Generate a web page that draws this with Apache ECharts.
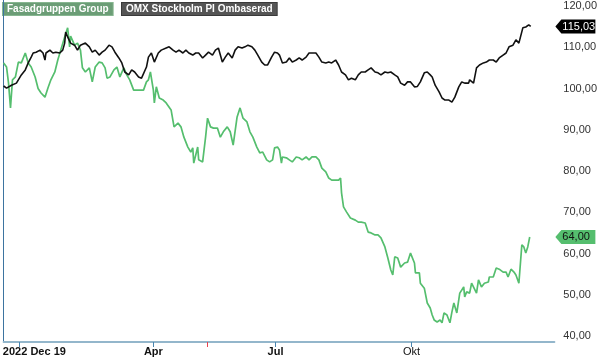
<!DOCTYPE html>
<html><head><meta charset="utf-8">
<script src="https://cdn.jsdelivr.net/npm/echarts@6/dist/echarts.min.js"></script>
<style>html,body{margin:0;padding:0;background:#fff}#c{width:600px;height:361px}</style>
</head><body><div id="c"></div>
<script>
const seriesNames = ['Fasadgruppen Group', 'OMX Stockholm PI Ombaserad'];
// trading-day index from chart start
const fasadDays = [0,1.5,2.5,3.5,4.5,6,7.5,9,11,12.5,
14,16,17.5,19,21,22.5,24,26,27.5,29,
31,32.5,33.5,34,36,37.5,39,40,41.5,43.5,
45,46.5,48.5,50,51.5,52.5,54,56,57.5,59,
61,62.5,64,66,68.5,71,72.5,73.5,74.5,76,
76.5,77.5,79,81,82.5,83.5,85,86.5,88.5,90,
91.5,93.5,95,96,96.5,98.5,99,101,102.5,103.5,
105,106.5,108.5,110,111.5,113.5,115,116.5,118.5,120,
121.5,123.5,125,126.5,128.5,130,131.5,133.5,135,136.5,
137.5,139,140,141,141.5,143.5,145,146.5,148.5,150,
151.5,153.5,155,156.5,158.5,160,161.5,163.5,165,166.5,
168.5,170,171,171.5,172.5,174,176,176.5,178.5,180,
181.5,183.5,185,186.5,188.5,190,191.5,193.5,195,196.5,
197.5,198.5,200,201.5,203.5,205,206.5,207.5,208.5,209,
211,211.5,213.5,215,216.5,217.5,218.5,220,221.5,222.5,
223.5,225,226.5,227.5,228.5,230,231.5,233.5,234,235,
236.5,237.5,238.5,240,241,242.5,244,246,246.5,248.5,
250,251.5,253.5,255,256,257.5,259,260,261.5,263,
264,265,266,267];
const fasadValues = [106.2,105.2,101.3,95.3,102.1,102.8,106.4,106.2,108.6,106.2,
105.2,102.8,100.0,98.9,97.9,100.1,102.1,104.0,106.9,109.3,
112.5,114.7,110.1,112.7,110.5,111.0,109.3,105.0,104.0,105.0,
101.6,105.2,106.4,106.2,105.0,102.5,102.8,104.5,105.2,102.8,
105.0,103.3,102.1,99.6,99.6,99.6,101.6,102.1,104.0,99.6,
96.5,100.4,97.7,97.2,96.5,96.7,94.8,90.7,91.6,90.7,
88.2,85.8,84.6,85.6,81.9,85.8,82.7,82.2,88.2,92.8,
90.7,90.4,90.4,88.2,89.5,90.7,89.5,86.3,93.1,95.3,
92.8,91.9,89.5,88.2,85.8,84.4,84.6,82.7,82.2,82.7,
85.6,85.8,85.1,81.9,83.4,83.2,82.7,82.2,83.4,83.2,
82.7,83.4,82.7,83.4,83.4,82.7,80.7,79.8,78.3,77.8,
77.8,77.8,78.3,74.7,71.3,70.1,68.6,68.8,68.1,67.6,
67.6,67.4,65.2,65.0,64.5,64.5,63.8,61.6,58.9,56.0,
54.8,59.2,58.9,56.7,57.7,57.9,60.1,60.1,57.7,55.3,
55.3,52.8,51.6,48.0,46.8,45.1,43.9,43.4,43.9,43.2,
45.6,45.1,43.2,45.8,48.0,45.6,50.4,51.9,49.5,50.7,
50.4,52.8,52.4,50.4,53.6,51.9,52.8,53.1,54.3,54.3,
56.5,56.2,55.5,55.5,54.3,56.2,55.5,54.8,52.8,62.1,
61.6,60.1,61.6,64.0];
const omxDays = [0,1.5,2.5,4,5,6.5,7.5,9,11,12.5,
14,15,16.5,18.5,20,21,21.5,23.5,25,26.5,
28.5,30,31,31.5,32.5,34,36,37.5,39,41.5,
43.5,45,46.5,48.5,50,51.5,53.5,55,56.5,58.5,
60,61.5,63.5,65,66.5,68.5,70,72.5,73.5,75,
76.5,78.5,80,82.5,84,86,87.5,89,91,92.5,
94,96,97.5,99,101,102.5,104,106,107.5,109,
111,112.5,114,116,117.5,119,121,122.5,124,126,
127.5,129,131,132.5,134,136,137.5,139,140,141.5,
143.5,145,146.5,148.5,150,151.5,153.5,155,156.5,158.5,
160,161.5,163.5,165,166.5,168.5,170,171.5,173.5,175,
176.5,178.5,180,181.5,183.5,185,186.5,188.5,190,191.5,
193.5,195,196.5,198.5,200,201.5,203.5,205,206.5,208.5,
210,211.5,213.5,215,216.5,217.5,219,221,222.5,224,
226,227.5,229,231,232.5,234,236,236.5,238.5,240,
241.5,243.5,245,246.5,248.5,250,251.5,253.5,255,256.5,
258.5,260,261.5,263.5,265,266.5,267.5];
const omxValues = [100.6,100.1,100.1,100.8,100.4,101.3,101.6,103.3,104.5,106.2,
107.6,108.6,108.8,109.3,108.6,106.9,108.6,109.3,108.6,108.8,
108.6,109.3,111.0,113.7,112.5,111.0,110.5,109.3,110.5,111.0,
110.1,108.8,109.3,108.1,108.8,109.3,110.5,110.1,108.8,107.4,
106.2,104.0,103.3,104.5,104.0,102.8,102.5,105.2,107.6,108.6,
106.4,108.6,109.3,109.8,110.1,109.3,108.8,109.3,108.6,109.3,
108.6,108.1,108.6,108.6,107.4,108.1,108.8,108.1,109.3,109.8,
106.4,107.6,108.6,107.4,109.3,110.1,109.8,110.1,110.5,110.1,
109.3,108.1,106.4,105.7,105.7,107.6,108.8,108.6,108.1,106.2,
106.4,107.4,106.4,106.9,107.4,106.9,107.6,108.6,108.6,108.6,
107.6,106.4,106.2,106.4,106.2,106.9,105.7,104.0,103.3,102.1,
102.5,102.1,103.3,104.0,104.0,104.5,105.0,104.0,103.8,103.3,
104.0,103.8,104.0,103.3,102.8,101.3,100.8,101.6,101.6,100.4,
100.5,101.6,103.8,104.0,103.3,102.8,100.8,99.2,97.7,97.2,
97.2,96.7,97.9,100.4,101.6,101.3,101.3,102.1,101.3,105.0,
105.7,106.2,106.4,106.9,106.9,106.4,107.4,108.1,108.6,110.1,
110.5,111.8,111.0,114.7,114.9,115.4,115.03];
const xTickDays = [8, 76, 138, 207];
const xTickLabels = ['2022 Dec 19', 'Apr', 'Jul', 'Okt'];
const markerDays = [103.5];
const yTickValues = [40, 50, 60, 70, 80, 90, 100, 110, 120];

const GREEN = '#55be6e';
const BLACK = '#111111';
const FONT = 'Arial, "Liberation Sans", sans-serif';

const chart = echarts.init(document.getElementById('c'), null, {renderer: 'canvas'});
const fmt = v => v.toFixed(2).replace('.', ',');

const xBase = {
  type: 'value', min: 0, max: 279.5, gridIndex: 0,
  splitLine: {show: false}
};

chart.setOption({
  animation: false,
  backgroundColor: '#fff',
  grid: {left: 0, right: 41, top: 0, bottom: 19, containLabel: false},
  xAxis: [
    Object.assign({}, xBase, {
      position: 'bottom',
      axisLine: {show: true, lineStyle: {color: '#93b6cb', width: 2}},
      axisTick: {show: true, length: 5, customValues: xTickDays, lineStyle: {color: '#4a86b0', width: 1}},
      axisLabel: {
        show: true, customValues: xTickDays, margin: 4,
        formatter: v => {
          const i = xTickDays.indexOf(v);
          if (i < 0) return '';
          if (i === 0) return '{first|' + xTickLabels[i] + '}';
          if (i === xTickLabels.length - 1) return '{norm|' + xTickLabels[i] + '}';
          return '{bold|' + xTickLabels[i] + '}';
        },
        rich: {
          first: {fontWeight: 'bold', fontSize: 11, fontFamily: FONT, color: '#111', padding: [0, 0, 0, 30]},
          bold: {fontWeight: 'bold', fontSize: 11, fontFamily: FONT, color: '#111'},
          norm: {fontWeight: 'normal', fontSize: 11, fontFamily: FONT, color: '#111'}
        }
      }
    }),
    Object.assign({}, xBase, {
      position: 'bottom',
      axisLine: {show: false},
      axisTick: {show: true, length: 5, customValues: markerDays, lineStyle: {color: '#e8434f', width: 1}},
      axisLabel: {show: false}
    })
  ],
  yAxis: {
    type: 'value', position: 'right', min: 38.55, max: 121.45,
    splitLine: {show: false},
    axisLine: {show: true, lineStyle: {color: '#3d74a0', width: 1}},
    axisTick: {show: false},
    axisLabel: {
      customValues: yTickValues, margin: 9, fontSize: 11, fontFamily: FONT,
      color: '#333', formatter: v => fmt(v)
    }
  },
  series: [
    {
      name: seriesNames[0], type: 'line', xAxisIndex: 0, showSymbol: false,
      data: fasadDays.map((d, i) => [d, fasadValues[i]]),
      lineStyle: {color: GREEN, width: 1.7}, itemStyle: {color: GREEN}, z: 2
    },
    {
      name: seriesNames[1], type: 'line', xAxisIndex: 0, showSymbol: false,
      data: omxDays.map((d, i) => [d, omxValues[i]]),
      lineStyle: {color: BLACK, width: 1.6}, itemStyle: {color: BLACK}, z: 3
    }
  ]
});

function tag(value, bg, fg) {
  const y = chart.convertToPixel({yAxisIndex: 0}, value);
  const x0 = chart.convertToPixel({xAxisIndex: 0}, 279.5) + 1;
  return {
    type: 'group',
    children: [
      {type: 'polygon', shape: {points: [[x0, y], [x0 + 6, y - 7], [x0 + 40, y - 7], [x0 + 40, y + 7], [x0 + 6, y + 7]]},
       style: {fill: bg}},
      {type: 'text', style: {text: fmt(value), x: x0 + 7, y: y, fill: fg, font: '11px ' + FONT, textVerticalAlign: 'middle', verticalAlign: 'middle'}}
    ]
  };
}

chart.setOption({
  graphic: [
    {type: 'text', left: 2, top: 2, style: {
      text: seriesNames[0], fill: '#fff', font: 'bold 10px ' + FONT,
      backgroundColor: '#6b9d76', borderColor: '#86b690', borderWidth: 1, padding: [1, 4, 1, 4]}},
    {type: 'text', left: 121, top: 2, style: {
      text: seriesNames[1], fill: '#fff', font: 'bold 10px ' + FONT,
      backgroundColor: '#555555', borderColor: '#3a3a3a', borderWidth: 1, padding: [1, 4, 1, 4]}},
    tag(omxValues[omxValues.length - 1], '#000', '#fff'),
    tag(fasadValues[fasadValues.length - 1], GREEN, '#111')
  ]
});
</script>
</body></html>
